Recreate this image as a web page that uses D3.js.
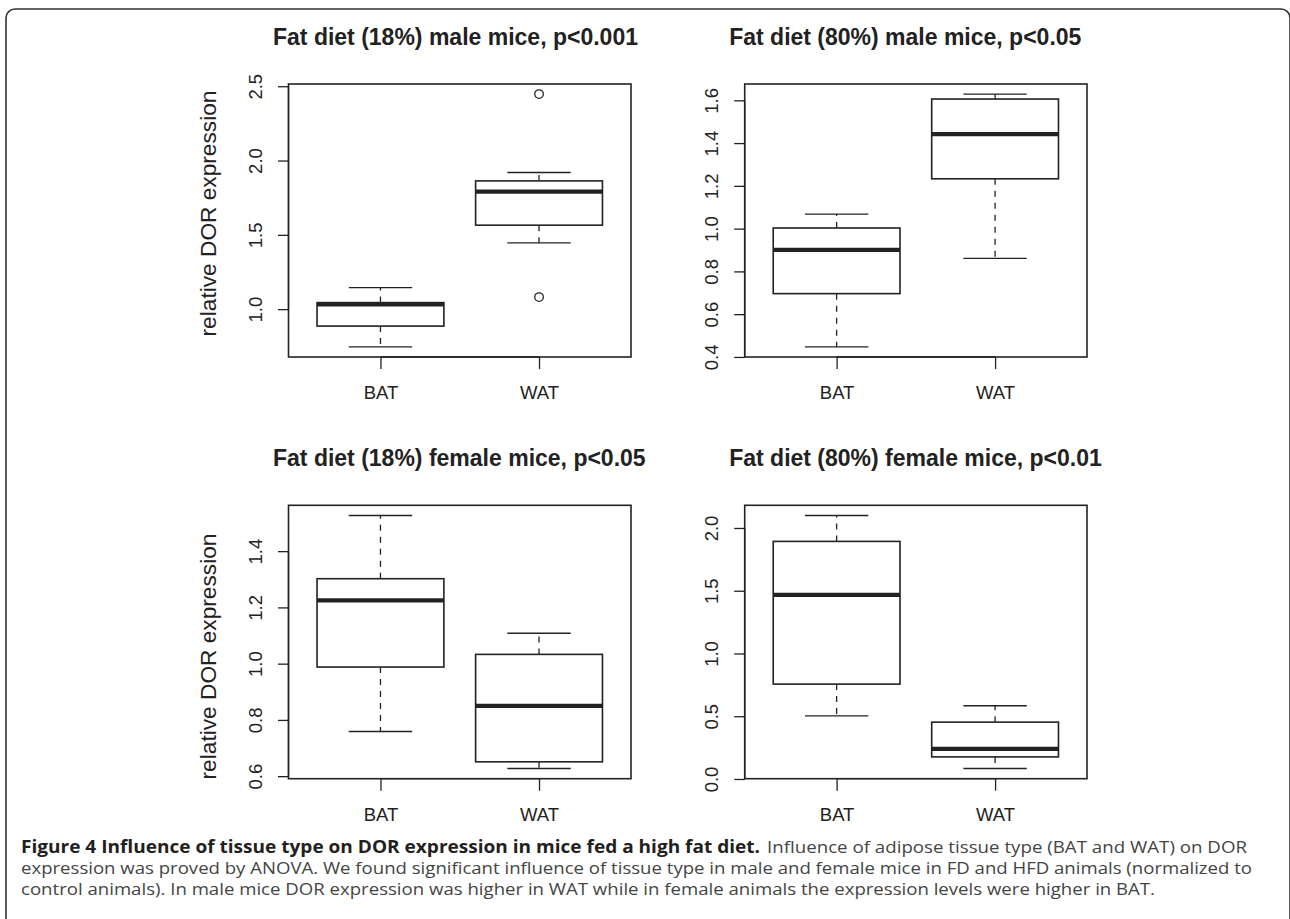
<!DOCTYPE html>
<html>
<head>
<meta charset="utf-8">
<script src="https://cdn.jsdelivr.net/npm/d3@7"></script>
<style>
  html, body { margin: 0; padding: 0; background: #fff; }
  svg { display: block; }
</style>
</head>
<body>
<svg id="chart" width="1290" height="919"></svg>
<script>
// ---------------- DATA ----------------
const categories = ["BAT", "WAT"];
const panelTitles = [
  "Fat diet (18%) male mice, p<0.001",
  "Fat diet (80%) male mice, p<0.05",
  "Fat diet (18%) female mice, p<0.05",
  "Fat diet (80%) female mice, p<0.01"
];
const yAxisLabel = "relative DOR expression";
// five-number summaries: [lower whisker, Q1, median, Q3, upper whisker]
const maleFD_BAT  = [0.746, 0.886, 1.032, 1.044, 1.145];
const maleFD_WAT  = [1.446, 1.565, 1.791, 1.863, 1.919];
const maleFD_outliers = [[], [2.447, 1.081]];
const maleHFD_BAT = [0.447, 0.696, 0.901, 1.003, 1.068];
const maleHFD_WAT = [0.861, 1.233, 1.442, 1.606, 1.629];
const maleHFD_outliers = [[], []];
const femaleFD_BAT = [0.759, 0.988, 1.225, 1.302, 1.527];
const femaleFD_WAT = [0.627, 0.651, 0.850, 1.033, 1.108];
const femaleFD_outliers = [[], []];
const femaleHFD_BAT = [0.503, 0.756, 1.467, 1.893, 2.100];
const femaleHFD_WAT = [0.083, 0.176, 0.240, 0.453, 0.583];
const femaleHFD_outliers = [[], []];
const yTicks1 = [1.0, 1.5, 2.0, 2.5];
const yTicks2 = [0.4, 0.6, 0.8, 1.0, 1.2, 1.4, 1.6];
const yTicks3 = [0.6, 0.8, 1.0, 1.2, 1.4];
const yTicks4 = [0.0, 0.5, 1.0, 1.5, 2.0];
const captionBold = "Figure 4 Influence of tissue type on DOR expression in mice fed a high fat diet.";
const captionLines = [
  "Influence of adipose tissue type (BAT and WAT) on DOR",
  "expression was proved by ANOVA. We found significant influence of tissue type in male and female mice in FD and HFD animals (normalized to",
  "control animals). In male mice DOR expression was higher in WAT while in female animals the expression levels were higher in BAT."
];

// ---------------- LAYOUT ----------------
const svg = d3.select("#chart");
const ink = "#222";
const font = "'Liberation Sans', Arial, Helvetica, sans-serif";

// frame
svg.append("rect")
  .attr("x", 6).attr("y", 9).attr("width", 1284).attr("height", 1000)
  .attr("rx", 9).attr("ry", 9)
  .attr("fill", "none").attr("stroke", "#333").attr("stroke-width", 1.6);

const panels = [
  {title: panelTitles[0], stats: [maleFD_BAT, maleFD_WAT], out: maleFD_outliers, ticks: yTicks1,
   x0: 288.5, x1: 631, y0: 84, y1: 357, ylab: true, ylabY: 213.5},
  {title: panelTitles[1], stats: [maleHFD_BAT, maleHFD_WAT], out: maleHFD_outliers, ticks: yTicks2,
   x0: 744.7, x1: 1087, y0: 84, y1: 357, ylab: false},
  {title: panelTitles[2], stats: [femaleFD_BAT, femaleFD_WAT], out: femaleFD_outliers, ticks: yTicks3,
   x0: 288.5, x1: 631, y0: 505.3, y1: 778.7, ylab: true, ylabY: 656.5},
  {title: panelTitles[3], stats: [femaleHFD_BAT, femaleHFD_WAT], out: femaleHFD_outliers, ticks: yTicks4,
   x0: 744.7, x1: 1087, y0: 505.3, y1: 778.7, ylab: false}
];

panels.forEach(p => {
  const g = svg.append("g");
  // y domain as R: range of all data, extended by 4%
  const allVals = p.stats.flat().concat(p.out.flat());
  const lo = d3.min(allVals), hi = d3.max(allVals);
  const ext = (hi - lo) * 0.04;
  const y = d3.scaleLinear().domain([lo - ext, hi + ext]).range([p.y1, p.y0]);
  const x = d3.scaleLinear().domain([0.42, 2.58]).range([p.x0, p.x1]);
  const boxHalf = (x(1.4) - x(1)) ;
  const capHalf = boxHalf / 2;

  // title
  g.append("text")
    .attr("x", p.x0 - 15.5).attr("y", p.y0 - 39)
    .attr("font-family", font).attr("font-weight", "bold").attr("font-size", 23)
    .attr("fill", ink).text(p.title);

  // y axis
  const yAxis = d3.axisLeft(y).tickValues(p.ticks).tickSize(10.5).tickSizeOuter(0)
    .tickFormat(d3.format(".1f"));
  const ya = g.append("g").attr("transform", `translate(${p.x0},0)`).call(yAxis);
  ya.select(".domain").attr("d", `M0,${y(p.ticks[0])}V${y(p.ticks[p.ticks.length-1])}`)
    .attr("stroke", ink).attr("stroke-width", 1.3);
  ya.selectAll(".tick line").attr("stroke", ink).attr("stroke-width", 1.3);
  ya.selectAll(".tick text")
    .attr("x", null).attr("dy", "0.36em")
    .attr("text-anchor", "middle")
    .attr("transform", "translate(-33,0) rotate(-90)")
    .attr("font-family", font).attr("font-size", 18.5).attr("fill", ink);

  // x axis
  const xAxis = d3.axisBottom(x).tickValues([1, 2]).tickSize(12).tickSizeOuter(0)
    .tickFormat(d => categories[d - 1]);
  const xa = g.append("g").attr("transform", `translate(0,${p.y1})`).call(xAxis);
  xa.select(".domain").attr("d", `M${x(1)},0H${x(2)}`).attr("stroke", ink).attr("stroke-width", 1.3);
  xa.selectAll(".tick line").attr("stroke", ink).attr("stroke-width", 1.3);
  xa.selectAll(".tick text")
    .attr("y", 42).attr("dy", null)
    .attr("font-family", font).attr("font-size", 18.5).attr("fill", ink);

  // boxes
  p.stats.forEach((s, i) => {
    const cx = x(i + 1);
    const [wl, q1, md, q3, wh] = s;
    // whiskers (dashed)
    g.append("line").attr("x1", cx).attr("x2", cx).attr("y1", y(q3)).attr("y2", y(wh))
      .attr("stroke", ink).attr("stroke-width", 1.3).attr("stroke-dasharray", "6,6");
    g.append("line").attr("x1", cx).attr("x2", cx).attr("y1", y(q1)).attr("y2", y(wl))
      .attr("stroke", ink).attr("stroke-width", 1.3).attr("stroke-dasharray", "6,6");
    // caps
    [wl, wh].forEach(v => {
      g.append("line").attr("x1", cx - capHalf).attr("x2", cx + capHalf).attr("y1", y(v)).attr("y2", y(v))
        .attr("stroke", ink).attr("stroke-width", 1.4);
    });
    // box
    g.append("rect").attr("x", cx - boxHalf).attr("width", 2 * boxHalf)
      .attr("y", y(q3)).attr("height", y(q1) - y(q3))
      .attr("fill", "#fff").attr("stroke", ink).attr("stroke-width", 1.6);
    // median
    g.append("line").attr("x1", cx - boxHalf).attr("x2", cx + boxHalf).attr("y1", y(md)).attr("y2", y(md))
      .attr("stroke", ink).attr("stroke-width", 4.2);
    // outliers
    p.out[i].forEach(v => {
      g.append("circle").attr("cx", cx).attr("cy", y(v)).attr("r", 4.3)
        .attr("fill", "none").attr("stroke", ink).attr("stroke-width", 1.3);
    });
  });

  // plot box
  g.append("rect").attr("x", p.x0).attr("y", p.y0).attr("width", p.x1 - p.x0).attr("height", p.y1 - p.y0)
    .attr("fill", "none").attr("stroke", ink).attr("stroke-width", 1.6);

  // y label
  if (p.ylab) {
    g.append("text")
      .attr("transform", `translate(${p.x0 - 80.5},${p.ylabY}) rotate(-90)`)
      .attr("dy", "0.36em").attr("text-anchor", "middle")
      .attr("font-family", font).attr("font-size", 22.7).attr("fill", ink)
      .text(yAxisLabel);
  }
});

// ---------------- CAPTION ----------------
const capFont = "'Open Sans', 'Noto Sans', sans-serif";
const capSize = 17;
const cap = svg.append("g");
const bold = cap.append("text").attr("x", 21).attr("y", 853)
  .attr("font-family", capFont).attr("font-size", capSize).attr("font-weight", "bold")
  .attr("fill", "#231f20").text(captionBold)
  .attr("textLength", 739).attr("lengthAdjust", "spacingAndGlyphs");
cap.append("text").attr("x", 767).attr("y", 853)
  .attr("font-family", capFont).attr("font-size", capSize)
  .attr("fill", "#444").text(captionLines[0])
  .attr("textLength", 480).attr("lengthAdjust", "spacingAndGlyphs");
cap.append("text").attr("x", 21).attr("y", 874)
  .attr("font-family", capFont).attr("font-size", capSize)
  .attr("fill", "#444").text(captionLines[1])
  .attr("textLength", 1231).attr("lengthAdjust", "spacingAndGlyphs");
cap.append("text").attr("x", 21).attr("y", 895)
  .attr("font-family", capFont).attr("font-size", capSize)
  .attr("fill", "#444").text(captionLines[2])
  .attr("textLength", 1134).attr("lengthAdjust", "spacingAndGlyphs");
</script>
</body>
</html>
